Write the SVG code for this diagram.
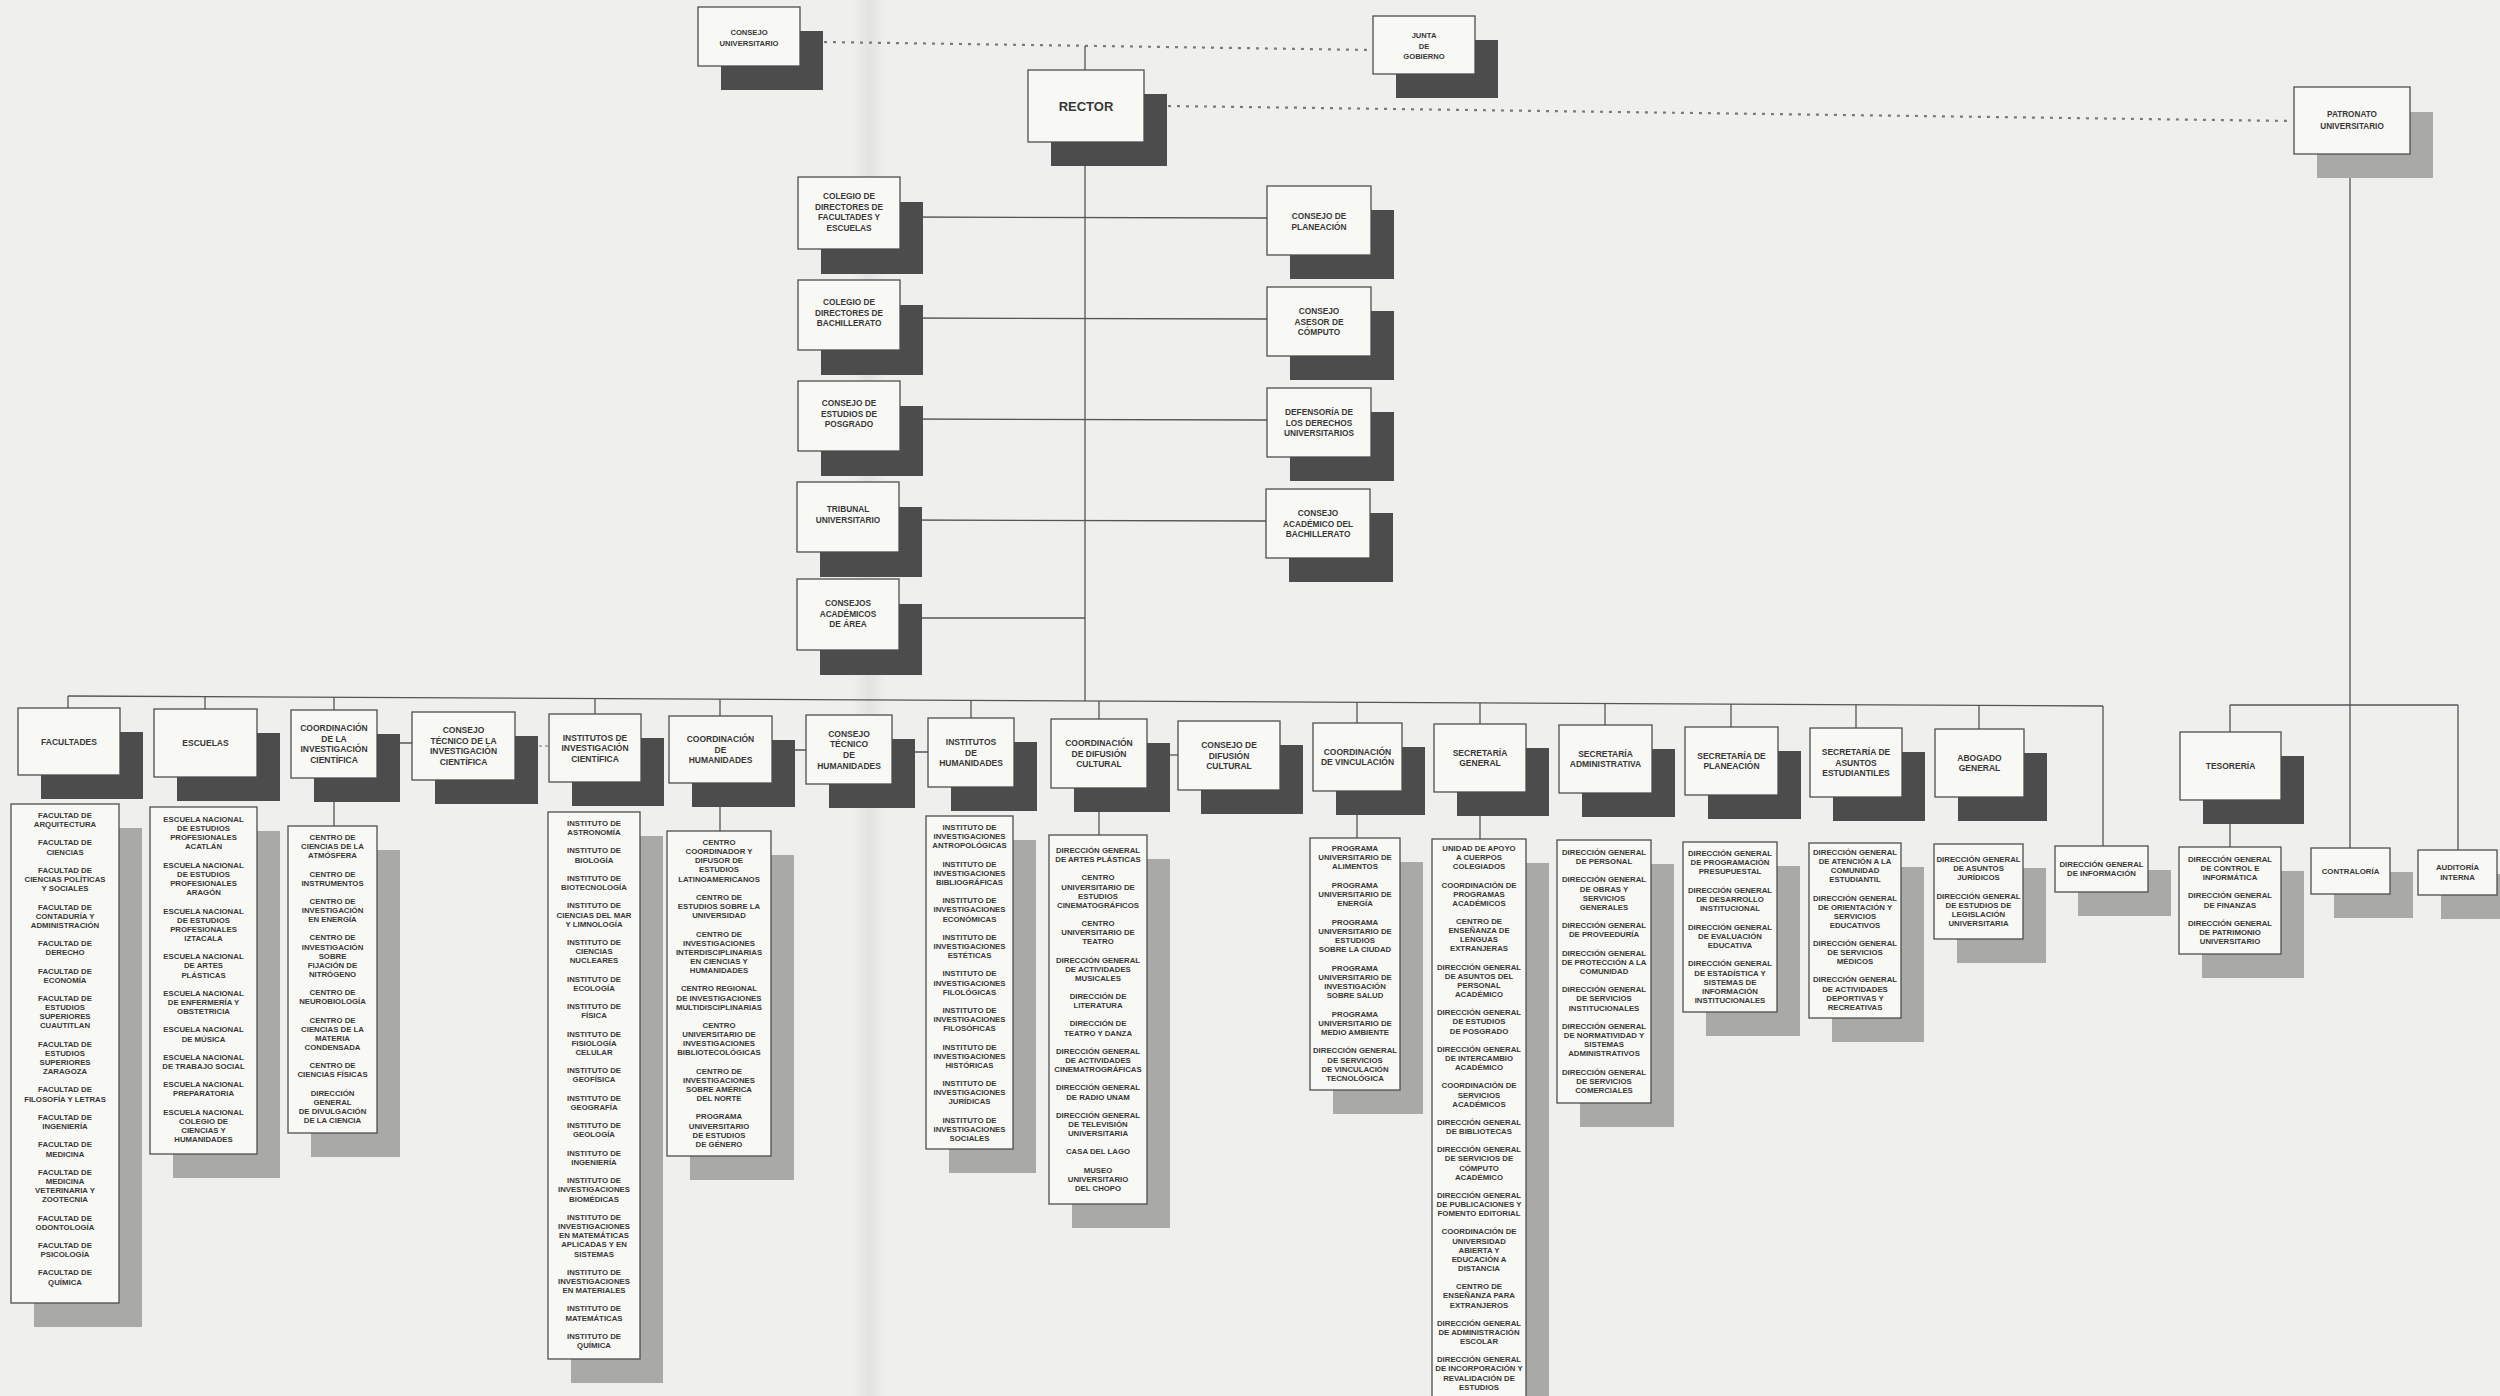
<svg xmlns="http://www.w3.org/2000/svg" width="2500" height="1396" viewBox="0 0 2500 1396">
<defs>
<style>
.bg{fill:#efefed}
.box{fill:#f8f8f5;stroke:#4e4e4e;stroke-width:1.3}
.sd{fill:#4c4c4c}
.sl{fill:#a9a9a7}
.ln{stroke:#555;stroke-width:1.3;fill:none}
.dot{stroke:#7a7a7a;stroke-width:2.2;stroke-dasharray:3 6;fill:none}
.dsh{stroke:#777;stroke-width:1.2;stroke-dasharray:3 3;fill:none}
text{font-family:"Liberation Sans",Arial,sans-serif;font-weight:bold;fill:#383838;text-anchor:middle}
.t{font-size:7.6px}
.h{font-size:8.5px}
.m{font-size:8.3px}
.l{font-size:7.8px}
.r{font-size:13px}
</style>
<linearGradient id="fold" x1="0" x2="1" y1="0" y2="0">
<stop offset="0" stop-color="#000" stop-opacity="0"/>
<stop offset="0.5" stop-color="#000" stop-opacity="0.05"/>
<stop offset="1" stop-color="#000" stop-opacity="0"/>
</linearGradient>
</defs>
<rect class="bg" x="0" y="0" width="2500" height="1396"/>
<rect x="852" y="0" width="34" height="1396" fill="url(#fold)"/>

<g id="connectors">
<line class="dot" x1="824" y1="42" x2="1372" y2="50"/>
<line class="dot" x1="1168" y1="106" x2="2292" y2="121"/>
<line class="ln" x1="1085" y1="46" x2="1085" y2="701"/>
<line class="ln" x1="900" y1="217" x2="1267" y2="218"/>
<line class="ln" x1="900" y1="318" x2="1267" y2="319"/>
<line class="ln" x1="900" y1="419" x2="1267" y2="420"/>
<line class="ln" x1="900" y1="520" x2="1267" y2="521"/>
<line class="ln" x1="900" y1="618" x2="1085" y2="618"/>
<line class="ln" x1="68" y1="696" x2="2103" y2="706"/>
<line class="ln" x1="68" y1="696" x2="68" y2="708"/>
<line class="ln" x1="205" y1="697" x2="205" y2="709"/>
<line class="ln" x1="334" y1="697" x2="334" y2="826"/>
<line class="ln" x1="595" y1="698" x2="595" y2="714"/>
<line class="ln" x1="720" y1="699" x2="720" y2="831"/>
<line class="ln" x1="971" y1="700" x2="971" y2="718"/>
<line class="ln" x1="1099" y1="701" x2="1099" y2="835"/>
<line class="ln" x1="1357" y1="702" x2="1357" y2="838"/>
<line class="ln" x1="1480" y1="703" x2="1480" y2="839"/>
<line class="ln" x1="1605" y1="703" x2="1605" y2="725"/>
<line class="ln" x1="1731" y1="704" x2="1731" y2="727"/>
<line class="ln" x1="1856" y1="705" x2="1856" y2="728"/>
<line class="ln" x1="1979" y1="705" x2="1979" y2="729"/>
<line class="ln" x1="2103" y1="706" x2="2103" y2="846"/>
<line class="ln" x1="377" y1="743" x2="412" y2="743"/>
<line class="dsh" x1="515" y1="746" x2="549" y2="746"/>
<line class="ln" x1="772" y1="750" x2="806" y2="750"/>
<line class="ln" x1="892" y1="752" x2="928" y2="752"/>
<line class="ln" x1="1147" y1="755" x2="1178" y2="755"/>
<line class="ln" x1="2350" y1="154" x2="2350" y2="848"/>
<line class="ln" x1="2230" y1="705" x2="2458" y2="705"/>
<line class="ln" x1="2230" y1="705" x2="2230" y2="847"/>
<line class="ln" x1="2458" y1="705" x2="2458" y2="850"/>
</g>

<g id="consejo-universitario"><rect class="sd" x="721" y="31" width="102" height="59"/><rect class="box" x="698" y="7" width="102" height="59"/>
<text class="t" x="749" y="35">CONSEJO<tspan x="749" dy="10.7">UNIVERSITARIO</tspan></text></g>
<g id="junta-de-gobierno"><rect class="sd" x="1396" y="40" width="102" height="58"/><rect class="box" x="1373" y="16" width="102" height="58"/>
<text class="t" x="1424" y="38">JUNTA<tspan x="1424" dy="10.5">DE</tspan><tspan x="1424" dy="10.5">GOBIERNO</tspan></text></g>
<g id="rector"><rect class="sd" x="1051" y="94" width="116" height="72"/><rect class="box" x="1028" y="70" width="116" height="72"/>
<text class="r" x="1086" y="111">RECTOR</text></g>
<g id="patronato"><rect class="sl" x="2317" y="112" width="116" height="66"/><rect class="box" x="2294" y="87" width="116" height="67"/>
<text class="t" x="2352" y="117" style="font-size:8.2px">PATRONATO<tspan x="2352" dy="11.5">UNIVERSITARIO</tspan></text></g>

<g id="colegio-facultades"><rect class="sd" x="821" y="202" width="102" height="72"/><rect class="box" x="798" y="177" width="102" height="72"/>
<text class="m" x="849" y="199">COLEGIO DE<tspan x="849" dy="10.6">DIRECTORES DE</tspan><tspan x="849" dy="10.6">FACULTADES Y</tspan><tspan x="849" dy="10.6">ESCUELAS</tspan></text></g>
<g id="colegio-bachillerato"><rect class="sd" x="821" y="305" width="102" height="70"/><rect class="box" x="798" y="280" width="102" height="70"/>
<text class="m" x="849" y="305">COLEGIO DE<tspan x="849" dy="10.6">DIRECTORES DE</tspan><tspan x="849" dy="10.6">BACHILLERATO</tspan></text></g>
<g id="consejo-posgrado"><rect class="sd" x="821" y="406" width="102" height="70"/><rect class="box" x="798" y="381" width="102" height="70"/>
<text class="m" x="849" y="406">CONSEJO DE<tspan x="849" dy="10.6">ESTUDIOS DE</tspan><tspan x="849" dy="10.6">POSGRADO</tspan></text></g>
<g id="tribunal"><rect class="sd" x="820" y="507" width="102" height="70"/><rect class="box" x="797" y="482" width="102" height="70"/>
<text class="m" x="848" y="512">TRIBUNAL<tspan x="848" dy="10.8">UNIVERSITARIO</tspan></text></g>
<g id="consejos-area"><rect class="sd" x="820" y="604" width="102" height="71"/><rect class="box" x="797" y="579" width="102" height="71"/>
<text class="m" x="848" y="606">CONSEJOS<tspan x="848" dy="10.6">ACADÉMICOS</tspan><tspan x="848" dy="10.6">DE ÁREA</tspan></text></g>

<g id="consejo-planeacion"><rect class="sd" x="1290" y="210" width="104" height="69"/><rect class="box" x="1267" y="186" width="104" height="69"/>
<text class="m" x="1319" y="219">CONSEJO DE<tspan x="1319" dy="10.6">PLANEACIÓN</tspan></text></g>
<g id="consejo-computo"><rect class="sd" x="1290" y="311" width="104" height="69"/><rect class="box" x="1267" y="287" width="104" height="69"/>
<text class="m" x="1319" y="314">CONSEJO<tspan x="1319" dy="10.6">ASESOR DE</tspan><tspan x="1319" dy="10.6">CÓMPUTO</tspan></text></g>
<g id="defensoria"><rect class="sd" x="1290" y="412" width="104" height="69"/><rect class="box" x="1267" y="388" width="104" height="69"/>
<text class="m" x="1319" y="415">DEFENSORÍA DE<tspan x="1319" dy="10.6">LOS DERECHOS</tspan><tspan x="1319" dy="10.6">UNIVERSITARIOS</tspan></text></g>
<g id="consejo-academico-bachillerato"><rect class="sd" x="1289" y="513" width="104" height="69"/><rect class="box" x="1266" y="489" width="104" height="69"/>
<text class="m" x="1318" y="516">CONSEJO<tspan x="1318" dy="10.6">ACADÉMICO DEL</tspan><tspan x="1318" dy="10.6">BACHILLERATO</tspan></text></g>

<g id="facultades"><rect class="sd" x="41" y="732" width="102" height="67"/><rect class="box" x="18" y="708" width="102" height="67"/>
<text class="h" x="69" y="744.6">FACULTADES</text></g>
<g id="escuelas"><rect class="sd" x="177" y="733" width="103" height="68"/><rect class="box" x="154" y="709" width="103" height="68"/>
<text class="h" x="205.5" y="746">ESCUELAS</text></g>
<g id="coord-investigacion-cientifica"><rect class="sd" x="314" y="734" width="86" height="68"/><rect class="box" x="291" y="710" width="86" height="68"/>
<text class="h" x="334" y="731.2">COORDINACIÓN<tspan x="334" dy="10.6">DE LA</tspan><tspan x="334" dy="10.6">INVESTIGACIÓN</tspan><tspan x="334" dy="10.6">CIENTÍFICA</tspan></text></g>
<g id="consejo-tecnico-ic"><rect class="sd" x="435" y="736" width="103" height="68"/><rect class="box" x="412" y="712" width="103" height="68"/>
<text class="h" x="463.5" y="733.2">CONSEJO<tspan x="463.5" dy="10.6">TÉCNICO DE LA</tspan><tspan x="463.5" dy="10.6">INVESTIGACIÓN</tspan><tspan x="463.5" dy="10.6">CIENTÍFICA</tspan></text></g>
<g id="institutos-ic"><rect class="sd" x="572" y="738" width="92" height="68"/><rect class="box" x="549" y="714" width="92" height="68"/>
<text class="h" x="595" y="740.5">INSTITUTOS DE<tspan x="595" dy="10.6">INVESTIGACIÓN</tspan><tspan x="595" dy="10.6">CIENTÍFICA</tspan></text></g>
<g id="coord-humanidades"><rect class="sd" x="692" y="740" width="103" height="67"/><rect class="box" x="669" y="716" width="103" height="67"/>
<text class="h" x="720.5" y="742">COORDINACIÓN<tspan x="720.5" dy="10.6">DE</tspan><tspan x="720.5" dy="10.6">HUMANIDADES</tspan></text></g>
<g id="consejo-tecnico-hum"><rect class="sd" x="829" y="739" width="86" height="69"/><rect class="box" x="806" y="715" width="86" height="69"/>
<text class="h" x="849" y="736.7">CONSEJO<tspan x="849" dy="10.6">TÉCNICO</tspan><tspan x="849" dy="10.6">DE</tspan><tspan x="849" dy="10.6">HUMANIDADES</tspan></text></g>
<g id="institutos-hum"><rect class="sd" x="951" y="742" width="86" height="69"/><rect class="box" x="928" y="718" width="86" height="69"/>
<text class="h" x="971" y="745">INSTITUTOS<tspan x="971" dy="10.6">DE</tspan><tspan x="971" dy="10.6">HUMANIDADES</tspan></text></g>
<g id="coord-difusion"><rect class="sd" x="1074" y="743" width="96" height="69"/><rect class="box" x="1051" y="719" width="96" height="69"/>
<text class="h" x="1099" y="746">COORDINACIÓN<tspan x="1099" dy="10.6">DE DIFUSIÓN</tspan><tspan x="1099" dy="10.6">CULTURAL</tspan></text></g>
<g id="consejo-difusion"><rect class="sd" x="1201" y="745" width="102" height="69"/><rect class="box" x="1178" y="721" width="102" height="69"/>
<text class="h" x="1229" y="748">CONSEJO DE<tspan x="1229" dy="10.6">DIFUSIÓN</tspan><tspan x="1229" dy="10.6">CULTURAL</tspan></text></g>
<g id="coord-vinculacion"><rect class="sd" x="1336" y="747" width="89" height="68"/><rect class="box" x="1313" y="723" width="89" height="68"/>
<text class="h" x="1357.5" y="754.8">COORDINACIÓN<tspan x="1357.5" dy="10.6">DE VINCULACIÓN</tspan></text></g>
<g id="secretaria-general"><rect class="sd" x="1457" y="748" width="92" height="68"/><rect class="box" x="1434" y="724" width="92" height="68"/>
<text class="h" x="1480" y="755.8">SECRETARÍA<tspan x="1480" dy="10.6">GENERAL</tspan></text></g>
<g id="secretaria-administrativa"><rect class="sd" x="1582" y="749" width="93" height="68"/><rect class="box" x="1559" y="725" width="93" height="68"/>
<text class="h" x="1605.5" y="756.8">SECRETARÍA<tspan x="1605.5" dy="10.6">ADMINISTRATIVA</tspan></text></g>
<g id="secretaria-planeacion"><rect class="sd" x="1708" y="751" width="93" height="68"/><rect class="box" x="1685" y="727" width="93" height="68"/>
<text class="h" x="1731.5" y="758.8">SECRETARÍA DE<tspan x="1731.5" dy="10.6">PLANEACIÓN</tspan></text></g>
<g id="secretaria-asuntos-estudiantiles"><rect class="sd" x="1833" y="752" width="92" height="69"/><rect class="box" x="1810" y="728" width="92" height="69"/>
<text class="h" x="1856" y="755">SECRETARÍA DE<tspan x="1856" dy="10.6">ASUNTOS</tspan><tspan x="1856" dy="10.6">ESTUDIANTILES</tspan></text></g>
<g id="abogado-general"><rect class="sd" x="1958" y="753" width="89" height="68"/><rect class="box" x="1935" y="729" width="89" height="68"/>
<text class="h" x="1979.5" y="760.8">ABOGADO<tspan x="1979.5" dy="10.6">GENERAL</tspan></text></g>
<g id="tesoreria"><rect class="sd" x="2203" y="756" width="101" height="68"/><rect class="box" x="2180" y="732" width="101" height="68"/>
<text class="h" x="2230.5" y="769">TESORERÍA</text></g>

<g id="facultades-list"><rect class="sl" x="34" y="828" width="108" height="499"/><rect class="box" x="11" y="804" width="108" height="499"/>
<text class="l" transform="translate(65,818)"><tspan x="0">FACULTAD DE</tspan><tspan x="0" dy="9.15">ARQUITECTURA</tspan><tspan x="0" dy="18.3">FACULTAD DE</tspan><tspan x="0" dy="9.15">CIENCIAS</tspan><tspan x="0" dy="18.3">FACULTAD DE</tspan><tspan x="0" dy="9.15">CIENCIAS POLÍTICAS</tspan><tspan x="0" dy="9.15">Y SOCIALES</tspan><tspan x="0" dy="18.3">FACULTAD DE</tspan><tspan x="0" dy="9.15">CONTADURÍA Y</tspan><tspan x="0" dy="9.15">ADMINISTRACIÓN</tspan><tspan x="0" dy="18.3">FACULTAD DE</tspan><tspan x="0" dy="9.15">DERECHO</tspan><tspan x="0" dy="18.3">FACULTAD DE</tspan><tspan x="0" dy="9.15">ECONOMÍA</tspan><tspan x="0" dy="18.3">FACULTAD DE</tspan><tspan x="0" dy="9.15">ESTUDIOS</tspan><tspan x="0" dy="9.15">SUPERIORES</tspan><tspan x="0" dy="9.15">CUAUTITLAN</tspan><tspan x="0" dy="18.3">FACULTAD DE</tspan><tspan x="0" dy="9.15">ESTUDIOS</tspan><tspan x="0" dy="9.15">SUPERIORES</tspan><tspan x="0" dy="9.15">ZARAGOZA</tspan><tspan x="0" dy="18.3">FACULTAD DE</tspan><tspan x="0" dy="9.15">FILOSOFÍA Y LETRAS</tspan><tspan x="0" dy="18.3">FACULTAD DE</tspan><tspan x="0" dy="9.15">INGENIERÍA</tspan><tspan x="0" dy="18.3">FACULTAD DE</tspan><tspan x="0" dy="9.15">MEDICINA</tspan><tspan x="0" dy="18.3">FACULTAD DE</tspan><tspan x="0" dy="9.15">MEDICINA</tspan><tspan x="0" dy="9.15">VETERINARIA Y</tspan><tspan x="0" dy="9.15">ZOOTECNIA</tspan><tspan x="0" dy="18.3">FACULTAD DE</tspan><tspan x="0" dy="9.15">ODONTOLOGÍA</tspan><tspan x="0" dy="18.3">FACULTAD DE</tspan><tspan x="0" dy="9.15">PSICOLOGÍA</tspan><tspan x="0" dy="18.3">FACULTAD DE</tspan><tspan x="0" dy="9.15">QUÍMICA</tspan></text></g>

<g id="escuelas-list"><rect class="sl" x="173" y="831" width="107" height="347"/><rect class="box" x="150" y="807" width="107" height="347"/>
<text class="l" transform="translate(203.5,822)"><tspan x="0">ESCUELA NACIONAL</tspan><tspan x="0" dy="9.15">DE ESTUDIOS</tspan><tspan x="0" dy="9.15">PROFESIONALES</tspan><tspan x="0" dy="9.15">ACATLÁN</tspan><tspan x="0" dy="18.3">ESCUELA NACIONAL</tspan><tspan x="0" dy="9.15">DE ESTUDIOS</tspan><tspan x="0" dy="9.15">PROFESIONALES</tspan><tspan x="0" dy="9.15">ARAGÓN</tspan><tspan x="0" dy="18.3">ESCUELA NACIONAL</tspan><tspan x="0" dy="9.15">DE ESTUDIOS</tspan><tspan x="0" dy="9.15">PROFESIONALES</tspan><tspan x="0" dy="9.15">IZTACALA</tspan><tspan x="0" dy="18.3">ESCUELA NACIONAL</tspan><tspan x="0" dy="9.15">DE ARTES</tspan><tspan x="0" dy="9.15">PLÁSTICAS</tspan><tspan x="0" dy="18.3">ESCUELA NACIONAL</tspan><tspan x="0" dy="9.15">DE ENFERMERÍA Y</tspan><tspan x="0" dy="9.15">OBSTETRICIA</tspan><tspan x="0" dy="18.3">ESCUELA NACIONAL</tspan><tspan x="0" dy="9.15">DE MÚSICA</tspan><tspan x="0" dy="18.3">ESCUELA NACIONAL</tspan><tspan x="0" dy="9.15">DE TRABAJO SOCIAL</tspan><tspan x="0" dy="18.3">ESCUELA NACIONAL</tspan><tspan x="0" dy="9.15">PREPARATORIA</tspan><tspan x="0" dy="18.3">ESCUELA NACIONAL</tspan><tspan x="0" dy="9.15">COLEGIO DE</tspan><tspan x="0" dy="9.15">CIENCIAS Y</tspan><tspan x="0" dy="9.15">HUMANIDADES</tspan></text></g>

<g id="coord-ic-list"><rect class="sl" x="311" y="850" width="89" height="307"/><rect class="box" x="288" y="826" width="89" height="307"/>
<text class="l" transform="translate(332.5,840)"><tspan x="0">CENTRO DE</tspan><tspan x="0" dy="9.13">CIENCIAS DE LA</tspan><tspan x="0" dy="9.13">ATMÓSFERA</tspan><tspan x="0" dy="18.26">CENTRO DE</tspan><tspan x="0" dy="9.13">INSTRUMENTOS</tspan><tspan x="0" dy="18.26">CENTRO DE</tspan><tspan x="0" dy="9.13">INVESTIGACIÓN</tspan><tspan x="0" dy="9.13">EN ENERGÍA</tspan><tspan x="0" dy="18.26">CENTRO DE</tspan><tspan x="0" dy="9.13">INVESTIGACIÓN</tspan><tspan x="0" dy="9.13">SOBRE</tspan><tspan x="0" dy="9.13">FIJACIÓN DE</tspan><tspan x="0" dy="9.13">NITRÓGENO</tspan><tspan x="0" dy="18.26">CENTRO DE</tspan><tspan x="0" dy="9.13">NEUROBIOLOGÍA</tspan><tspan x="0" dy="18.26">CENTRO DE</tspan><tspan x="0" dy="9.13">CIENCIAS DE LA</tspan><tspan x="0" dy="9.13">MATERIA</tspan><tspan x="0" dy="9.13">CONDENSADA</tspan><tspan x="0" dy="18.26">CENTRO DE</tspan><tspan x="0" dy="9.13">CIENCIAS FÍSICAS</tspan><tspan x="0" dy="18.26">DIRECCIÓN</tspan><tspan x="0" dy="9.13">GENERAL</tspan><tspan x="0" dy="9.13">DE DIVULGACIÓN</tspan><tspan x="0" dy="9.13">DE LA CIENCIA</tspan></text></g>

<g id="institutos-ic-list"><rect class="sl" x="571" y="836" width="92" height="547"/><rect class="box" x="548" y="812" width="92" height="547"/>
<text class="l" transform="translate(594,826)"><tspan x="0">INSTITUTO DE</tspan><tspan x="0" dy="9.16">ASTRONOMÍA</tspan><tspan x="0" dy="18.32">INSTITUTO DE</tspan><tspan x="0" dy="9.16">BIOLOGÍA</tspan><tspan x="0" dy="18.32">INSTITUTO DE</tspan><tspan x="0" dy="9.16">BIOTECNOLOGÍA</tspan><tspan x="0" dy="18.32">INSTITUTO DE</tspan><tspan x="0" dy="9.16">CIENCIAS DEL MAR</tspan><tspan x="0" dy="9.16">Y LIMNOLOGÍA</tspan><tspan x="0" dy="18.32">INSTITUTO DE</tspan><tspan x="0" dy="9.16">CIENCIAS</tspan><tspan x="0" dy="9.16">NUCLEARES</tspan><tspan x="0" dy="18.32">INSTITUTO DE</tspan><tspan x="0" dy="9.16">ECOLOGÍA</tspan><tspan x="0" dy="18.32">INSTITUTO DE</tspan><tspan x="0" dy="9.16">FÍSICA</tspan><tspan x="0" dy="18.32">INSTITUTO DE</tspan><tspan x="0" dy="9.16">FISIOLOGÍA</tspan><tspan x="0" dy="9.16">CELULAR</tspan><tspan x="0" dy="18.32">INSTITUTO DE</tspan><tspan x="0" dy="9.16">GEOFÍSICA</tspan><tspan x="0" dy="18.32">INSTITUTO DE</tspan><tspan x="0" dy="9.16">GEOGRAFÍA</tspan><tspan x="0" dy="18.32">INSTITUTO DE</tspan><tspan x="0" dy="9.16">GEOLOGÍA</tspan><tspan x="0" dy="18.32">INSTITUTO DE</tspan><tspan x="0" dy="9.16">INGENIERÍA</tspan><tspan x="0" dy="18.32">INSTITUTO DE</tspan><tspan x="0" dy="9.16">INVESTIGACIONES</tspan><tspan x="0" dy="9.16">BIOMÉDICAS</tspan><tspan x="0" dy="18.32">INSTITUTO DE</tspan><tspan x="0" dy="9.16">INVESTIGACIONES</tspan><tspan x="0" dy="9.16">EN MATEMÁTICAS</tspan><tspan x="0" dy="9.16">APLICADAS Y EN</tspan><tspan x="0" dy="9.16">SISTEMAS</tspan><tspan x="0" dy="18.32">INSTITUTO DE</tspan><tspan x="0" dy="9.16">INVESTIGACIONES</tspan><tspan x="0" dy="9.16">EN MATERIALES</tspan><tspan x="0" dy="18.32">INSTITUTO DE</tspan><tspan x="0" dy="9.16">MATEMÁTICAS</tspan><tspan x="0" dy="18.32">INSTITUTO DE</tspan><tspan x="0" dy="9.16">QUÍMICA</tspan></text></g>

<g id="coord-hum-list"><rect class="sl" x="690" y="855" width="104" height="325"/><rect class="box" x="667" y="831" width="104" height="325"/>
<text class="l" transform="translate(719,845)"><tspan x="0">CENTRO</tspan><tspan x="0" dy="9.15">COORDINADOR Y</tspan><tspan x="0" dy="9.15">DIFUSOR DE</tspan><tspan x="0" dy="9.15">ESTUDIOS</tspan><tspan x="0" dy="9.15">LATINOAMERICANOS</tspan><tspan x="0" dy="18.3">CENTRO DE</tspan><tspan x="0" dy="9.15">ESTUDIOS SOBRE LA</tspan><tspan x="0" dy="9.15">UNIVERSIDAD</tspan><tspan x="0" dy="18.3">CENTRO DE</tspan><tspan x="0" dy="9.15">INVESTIGACIONES</tspan><tspan x="0" dy="9.15">INTERDISCIPLINARIAS</tspan><tspan x="0" dy="9.15">EN CIENCIAS Y</tspan><tspan x="0" dy="9.15">HUMANIDADES</tspan><tspan x="0" dy="18.3">CENTRO REGIONAL</tspan><tspan x="0" dy="9.15">DE INVESTIGACIONES</tspan><tspan x="0" dy="9.15">MULTIDISCIPLINARIAS</tspan><tspan x="0" dy="18.3">CENTRO</tspan><tspan x="0" dy="9.15">UNIVERSITARIO DE</tspan><tspan x="0" dy="9.15">INVESTIGACIONES</tspan><tspan x="0" dy="9.15">BIBLIOTECOLÓGICAS</tspan><tspan x="0" dy="18.3">CENTRO DE</tspan><tspan x="0" dy="9.15">INVESTIGACIONES</tspan><tspan x="0" dy="9.15">SOBRE AMÉRICA</tspan><tspan x="0" dy="9.15">DEL NORTE</tspan><tspan x="0" dy="18.3">PROGRAMA</tspan><tspan x="0" dy="9.15">UNIVERSITARIO</tspan><tspan x="0" dy="9.15">DE ESTUDIOS</tspan><tspan x="0" dy="9.15">DE GÉNERO</tspan></text></g>

<g id="institutos-hum-list"><rect class="sl" x="949" y="840" width="87" height="333"/><rect class="box" x="926" y="816" width="87" height="333"/>
<text class="l" transform="translate(969.5,830)"><tspan x="0">INSTITUTO DE</tspan><tspan x="0" dy="9.15">INVESTIGACIONES</tspan><tspan x="0" dy="9.15">ANTROPOLÓGICAS</tspan><tspan x="0" dy="18.3">INSTITUTO DE</tspan><tspan x="0" dy="9.15">INVESTIGACIONES</tspan><tspan x="0" dy="9.15">BIBLIOGRÁFICAS</tspan><tspan x="0" dy="18.3">INSTITUTO DE</tspan><tspan x="0" dy="9.15">INVESTIGACIONES</tspan><tspan x="0" dy="9.15">ECONÓMICAS</tspan><tspan x="0" dy="18.3">INSTITUTO DE</tspan><tspan x="0" dy="9.15">INVESTIGACIONES</tspan><tspan x="0" dy="9.15">ESTÉTICAS</tspan><tspan x="0" dy="18.3">INSTITUTO DE</tspan><tspan x="0" dy="9.15">INVESTIGACIONES</tspan><tspan x="0" dy="9.15">FILOLÓGICAS</tspan><tspan x="0" dy="18.3">INSTITUTO DE</tspan><tspan x="0" dy="9.15">INVESTIGACIONES</tspan><tspan x="0" dy="9.15">FILOSÓFICAS</tspan><tspan x="0" dy="18.3">INSTITUTO DE</tspan><tspan x="0" dy="9.15">INVESTIGACIONES</tspan><tspan x="0" dy="9.15">HISTÓRICAS</tspan><tspan x="0" dy="18.3">INSTITUTO DE</tspan><tspan x="0" dy="9.15">INVESTIGACIONES</tspan><tspan x="0" dy="9.15">JURÍDICAS</tspan><tspan x="0" dy="18.3">INSTITUTO DE</tspan><tspan x="0" dy="9.15">INVESTIGACIONES</tspan><tspan x="0" dy="9.15">SOCIALES</tspan></text></g>

<g id="coord-dif-list"><rect class="sl" x="1072" y="859" width="98" height="369"/><rect class="box" x="1049" y="835" width="98" height="369"/>
<text class="l" transform="translate(1098,853)"><tspan x="0">DIRECCIÓN GENERAL</tspan><tspan x="0" dy="9.13">DE ARTES PLÁSTICAS</tspan><tspan x="0" dy="18.26">CENTRO</tspan><tspan x="0" dy="9.13">UNIVERSITARIO DE</tspan><tspan x="0" dy="9.13">ESTUDIOS</tspan><tspan x="0" dy="9.13">CINEMATOGRÁFICOS</tspan><tspan x="0" dy="18.26">CENTRO</tspan><tspan x="0" dy="9.13">UNIVERSITARIO DE</tspan><tspan x="0" dy="9.13">TEATRO</tspan><tspan x="0" dy="18.26">DIRECCIÓN GENERAL</tspan><tspan x="0" dy="9.13">DE ACTIVIDADES</tspan><tspan x="0" dy="9.13">MUSICALES</tspan><tspan x="0" dy="18.26">DIRECCIÓN DE</tspan><tspan x="0" dy="9.13">LITERATURA</tspan><tspan x="0" dy="18.26">DIRECCIÓN DE</tspan><tspan x="0" dy="9.13">TEATRO Y DANZA</tspan><tspan x="0" dy="18.26">DIRECCIÓN GENERAL</tspan><tspan x="0" dy="9.13">DE ACTIVIDADES</tspan><tspan x="0" dy="9.13">CINEMATROGRÁFICAS</tspan><tspan x="0" dy="18.26">DIRECCIÓN GENERAL</tspan><tspan x="0" dy="9.13">DE RADIO UNAM</tspan><tspan x="0" dy="18.26">DIRECCIÓN GENERAL</tspan><tspan x="0" dy="9.13">DE TELEVISIÓN</tspan><tspan x="0" dy="9.13">UNIVERSITARIA</tspan><tspan x="0" dy="18.26">CASA DEL LAGO</tspan><tspan x="0" dy="18.26">MUSEO</tspan><tspan x="0" dy="9.13">UNIVERSITARIO</tspan><tspan x="0" dy="9.13">DEL CHOPO</tspan></text></g>

<g id="coord-vinc-list"><rect class="sl" x="1333" y="862" width="90" height="252"/><rect class="box" x="1310" y="838" width="90" height="252"/>
<text class="l" transform="translate(1355,851)"><tspan x="0">PROGRAMA</tspan><tspan x="0" dy="9.2">UNIVERSITARIO DE</tspan><tspan x="0" dy="9.2">ALIMENTOS</tspan><tspan x="0" dy="18.4">PROGRAMA</tspan><tspan x="0" dy="9.2">UNIVERSITARIO DE</tspan><tspan x="0" dy="9.2">ENERGÍA</tspan><tspan x="0" dy="18.4">PROGRAMA</tspan><tspan x="0" dy="9.2">UNIVERSITARIO DE</tspan><tspan x="0" dy="9.2">ESTUDIOS</tspan><tspan x="0" dy="9.2">SOBRE LA CIUDAD</tspan><tspan x="0" dy="18.4">PROGRAMA</tspan><tspan x="0" dy="9.2">UNIVERSITARIO DE</tspan><tspan x="0" dy="9.2">INVESTIGACIÓN</tspan><tspan x="0" dy="9.2">SOBRE SALUD</tspan><tspan x="0" dy="18.4">PROGRAMA</tspan><tspan x="0" dy="9.2">UNIVERSITARIO DE</tspan><tspan x="0" dy="9.2">MEDIO AMBIENTE</tspan><tspan x="0" dy="18.4">DIRECCIÓN GENERAL</tspan><tspan x="0" dy="9.2">DE SERVICIOS</tspan><tspan x="0" dy="9.2">DE VINCULACIÓN</tspan><tspan x="0" dy="9.2">TECNOLÓGICA</tspan></text></g>

<g id="sec-general-list"><rect class="sl" x="1455" y="863" width="94" height="570"/><rect class="box" x="1432" y="839" width="94" height="570"/>
<text class="l" transform="translate(1479,851)"><tspan x="0">UNIDAD DE APOYO</tspan><tspan x="0" dy="9.13">A CUERPOS</tspan><tspan x="0" dy="9.13">COLEGIADOS</tspan><tspan x="0" dy="18.26">COORDINACIÓN DE</tspan><tspan x="0" dy="9.13">PROGRAMAS</tspan><tspan x="0" dy="9.13">ACADÉMICOS</tspan><tspan x="0" dy="18.26">CENTRO DE</tspan><tspan x="0" dy="9.13">ENSEÑANZA DE</tspan><tspan x="0" dy="9.13">LENGUAS</tspan><tspan x="0" dy="9.13">EXTRANJERAS</tspan><tspan x="0" dy="18.26">DIRECCIÓN GENERAL</tspan><tspan x="0" dy="9.13">DE ASUNTOS DEL</tspan><tspan x="0" dy="9.13">PERSONAL</tspan><tspan x="0" dy="9.13">ACADÉMICO</tspan><tspan x="0" dy="18.26">DIRECCIÓN GENERAL</tspan><tspan x="0" dy="9.13">DE ESTUDIOS</tspan><tspan x="0" dy="9.13">DE POSGRADO</tspan><tspan x="0" dy="18.26">DIRECCIÓN GENERAL</tspan><tspan x="0" dy="9.13">DE INTERCAMBIO</tspan><tspan x="0" dy="9.13">ACADÉMICO</tspan><tspan x="0" dy="18.26">COORDINACIÓN DE</tspan><tspan x="0" dy="9.13">SERVICIOS</tspan><tspan x="0" dy="9.13">ACADÉMICOS</tspan><tspan x="0" dy="18.26">DIRECCIÓN GENERAL</tspan><tspan x="0" dy="9.13">DE BIBLIOTECAS</tspan><tspan x="0" dy="18.26">DIRECCIÓN GENERAL</tspan><tspan x="0" dy="9.13">DE SERVICIOS DE</tspan><tspan x="0" dy="9.13">CÓMPUTO</tspan><tspan x="0" dy="9.13">ACADÉMICO</tspan><tspan x="0" dy="18.26">DIRECCIÓN GENERAL</tspan><tspan x="0" dy="9.13">DE PUBLICACIONES Y</tspan><tspan x="0" dy="9.13">FOMENTO EDITORIAL</tspan><tspan x="0" dy="18.26">COORDINACIÓN DE</tspan><tspan x="0" dy="9.13">UNIVERSIDAD</tspan><tspan x="0" dy="9.13">ABIERTA Y</tspan><tspan x="0" dy="9.13">EDUCACIÓN A</tspan><tspan x="0" dy="9.13">DISTANCIA</tspan><tspan x="0" dy="18.26">CENTRO DE</tspan><tspan x="0" dy="9.13">ENSEÑANZA PARA</tspan><tspan x="0" dy="9.13">EXTRANJEROS</tspan><tspan x="0" dy="18.26">DIRECCIÓN GENERAL</tspan><tspan x="0" dy="9.13">DE ADMINISTRACIÓN</tspan><tspan x="0" dy="9.13">ESCOLAR</tspan><tspan x="0" dy="18.26">DIRECCIÓN GENERAL</tspan><tspan x="0" dy="9.13">DE INCORPORACIÓN Y</tspan><tspan x="0" dy="9.13">REVALIDACIÓN DE</tspan><tspan x="0" dy="9.13">ESTUDIOS</tspan></text></g>

<g id="sec-admin-list"><rect class="sl" x="1580" y="864" width="94" height="263"/><rect class="box" x="1557" y="840" width="94" height="263"/>
<text class="l" transform="translate(1604,855)"><tspan x="0">DIRECCIÓN GENERAL</tspan><tspan x="0" dy="9.15">DE PERSONAL</tspan><tspan x="0" dy="18.3">DIRECCIÓN GENERAL</tspan><tspan x="0" dy="9.15">DE OBRAS Y</tspan><tspan x="0" dy="9.15">SERVICIOS</tspan><tspan x="0" dy="9.15">GENERALES</tspan><tspan x="0" dy="18.3">DIRECCIÓN GENERAL</tspan><tspan x="0" dy="9.15">DE PROVEEDURÍA</tspan><tspan x="0" dy="18.3">DIRECCIÓN GENERAL</tspan><tspan x="0" dy="9.15">DE PROTECCIÓN A LA</tspan><tspan x="0" dy="9.15">COMUNIDAD</tspan><tspan x="0" dy="18.3">DIRECCIÓN GENERAL</tspan><tspan x="0" dy="9.15">DE SERVICIOS</tspan><tspan x="0" dy="9.15">INSTITUCIONALES</tspan><tspan x="0" dy="18.3">DIRECCIÓN GENERAL</tspan><tspan x="0" dy="9.15">DE NORMATIVIDAD Y</tspan><tspan x="0" dy="9.15">SISTEMAS</tspan><tspan x="0" dy="9.15">ADMINISTRATIVOS</tspan><tspan x="0" dy="18.3">DIRECCIÓN GENERAL</tspan><tspan x="0" dy="9.15">DE SERVICIOS</tspan><tspan x="0" dy="9.15">COMERCIALES</tspan></text></g>

<g id="sec-plan-list"><rect class="sl" x="1706" y="866" width="94" height="170"/><rect class="box" x="1683" y="842" width="94" height="170"/>
<text class="l" transform="translate(1730,856)"><tspan x="0">DIRECCIÓN GENERAL</tspan><tspan x="0" dy="9.2">DE PROGRAMACIÓN</tspan><tspan x="0" dy="9.2">PRESUPUESTAL</tspan><tspan x="0" dy="18.4">DIRECCIÓN GENERAL</tspan><tspan x="0" dy="9.2">DE DESARROLLO</tspan><tspan x="0" dy="9.2">INSTITUCIONAL</tspan><tspan x="0" dy="18.4">DIRECCIÓN GENERAL</tspan><tspan x="0" dy="9.2">DE EVALUACIÓN</tspan><tspan x="0" dy="9.2">EDUCATIVA</tspan><tspan x="0" dy="18.4">DIRECCIÓN GENERAL</tspan><tspan x="0" dy="9.2">DE ESTADÍSTICA Y</tspan><tspan x="0" dy="9.2">SISTEMAS DE</tspan><tspan x="0" dy="9.2">INFORMACIÓN</tspan><tspan x="0" dy="9.2">INSTITUCIONALES</tspan></text></g>

<g id="sec-ae-list"><rect class="sl" x="1832" y="867" width="92" height="175"/><rect class="box" x="1809" y="843" width="92" height="175"/>
<text class="l" transform="translate(1855,855)"><tspan x="0">DIRECCIÓN GENERAL</tspan><tspan x="0" dy="9.1">DE ATENCIÓN A LA</tspan><tspan x="0" dy="9.1">COMUNIDAD</tspan><tspan x="0" dy="9.1">ESTUDIANTIL</tspan><tspan x="0" dy="18.2">DIRECCIÓN GENERAL</tspan><tspan x="0" dy="9.1">DE ORIENTACIÓN Y</tspan><tspan x="0" dy="9.1">SERVICIOS</tspan><tspan x="0" dy="9.1">EDUCATIVOS</tspan><tspan x="0" dy="18.2">DIRECCIÓN GENERAL</tspan><tspan x="0" dy="9.1">DE SERVICIOS</tspan><tspan x="0" dy="9.1">MÉDICOS</tspan><tspan x="0" dy="18.2">DIRECCIÓN GENERAL</tspan><tspan x="0" dy="9.1">DE ACTIVIDADES</tspan><tspan x="0" dy="9.1">DEPORTIVAS Y</tspan><tspan x="0" dy="9.1">RECREATIVAS</tspan></text></g>

<g id="abogado-list"><rect class="sl" x="1957" y="868" width="89" height="95"/><rect class="box" x="1934" y="844" width="89" height="95"/>
<text class="l" transform="translate(1978.5,862)"><tspan x="0">DIRECCIÓN GENERAL</tspan><tspan x="0" dy="9.2">DE ASUNTOS</tspan><tspan x="0" dy="9.2">JURÍDICOS</tspan><tspan x="0" dy="18.4">DIRECCIÓN GENERAL</tspan><tspan x="0" dy="9.2">DE ESTUDIOS DE</tspan><tspan x="0" dy="9.2">LEGISLACIÓN</tspan><tspan x="0" dy="9.2">UNIVERSITARIA</tspan></text></g>

<g id="dg-informacion"><rect class="sl" x="2078" y="870" width="93" height="46"/><rect class="box" x="2055" y="846" width="93" height="46"/>
<text class="l" transform="translate(2101.5,867)"><tspan x="0">DIRECCIÓN GENERAL</tspan><tspan x="0" dy="9.2">DE INFORMACIÓN</tspan></text></g>

<g id="tesoreria-list"><rect class="sl" x="2202" y="871" width="102" height="107"/><rect class="box" x="2179" y="847" width="102" height="107"/>
<text class="l" transform="translate(2230,862)"><tspan x="0">DIRECCIÓN GENERAL</tspan><tspan x="0" dy="9.1">DE CONTROL E</tspan><tspan x="0" dy="9.1">INFORMÁTICA</tspan><tspan x="0" dy="18.2">DIRECCIÓN GENERAL</tspan><tspan x="0" dy="9.1">DE FINANZAS</tspan><tspan x="0" dy="18.2">DIRECCIÓN GENERAL</tspan><tspan x="0" dy="9.1">DE PATRIMONIO</tspan><tspan x="0" dy="9.1">UNIVERSITARIO</tspan></text></g>

<g id="contraloria"><rect class="sl" x="2334" y="872" width="79" height="46"/><rect class="box" x="2311" y="848" width="79" height="46"/>
<text class="l" x="2350.5" y="874">CONTRALORÍA</text></g>

<g id="auditoria-interna"><rect class="sl" x="2441" y="874" width="79" height="45"/><rect class="box" x="2418" y="850" width="79" height="45"/>
<text class="l" transform="translate(2457.5,870)"><tspan x="0">AUDITORÍA</tspan><tspan x="0" dy="9.5">INTERNA</tspan></text></g>
</svg>
